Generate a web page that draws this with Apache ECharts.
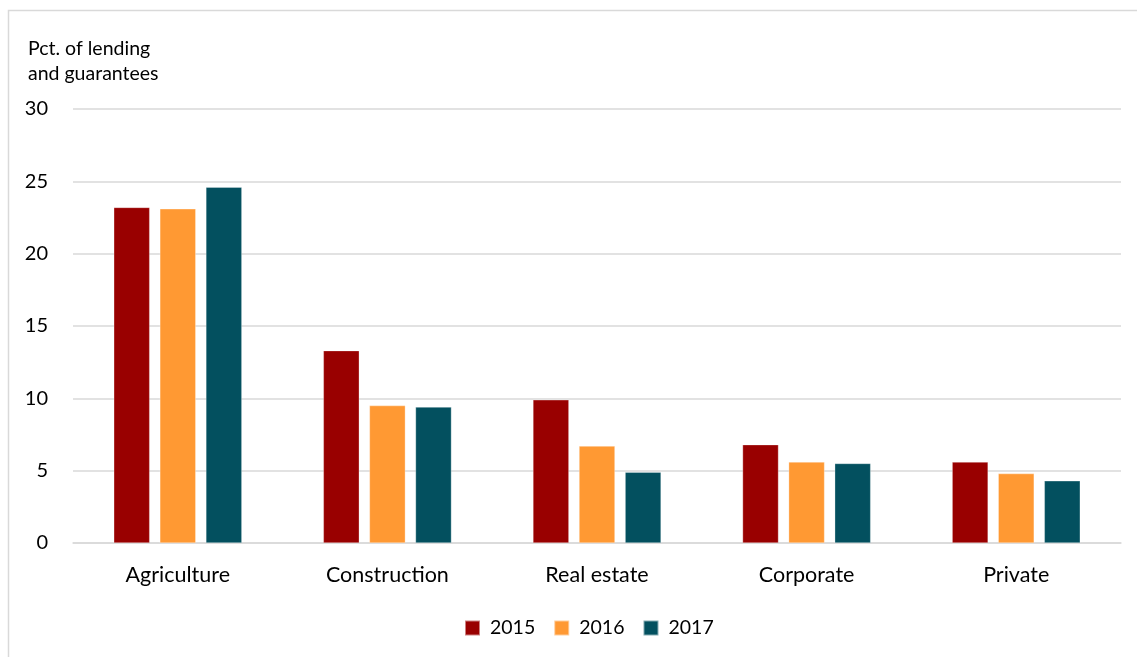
<!DOCTYPE html>
<html>
<head>
<meta charset="utf-8">
<script src="https://cdn.jsdelivr.net/npm/echarts@6/dist/echarts.min.js"></script>
<style>
  html, body { margin: 0; padding: 0; background: #fff; }
  #chart { width: 1137px; height: 657px; }
</style>
</head>
<body>
<div id="chart"></div>
<script>
// Share of lending and guarantees by sector, 2015-2017
const categories = ['Agriculture', 'Construction', 'Real estate', 'Corporate', 'Private'];
const years = ['2015', '2016', '2017'];
const values2015 = [23.2, 13.3, 9.9, 6.8, 5.6];
const values2016 = [23.1, 9.5, 6.7, 5.6, 4.8];
const values2017 = [24.6, 9.4, 4.9, 5.5, 4.3];
const yTicks = [0, 5, 10, 15, 20, 25, 30];

const colors = ['#990000', '#FF9933', '#03505F'];
const font = 'Lato, "Open Sans", sans-serif';
const seriesValues = [values2015, values2016, values2017];

const chart = echarts.init(document.getElementById('chart'), null, { renderer: 'canvas' });

chart.setOption({
  animation: false,
  backgroundColor: '#fff',
  textStyle: { fontFamily: font, color: '#000' },
  graphic: [{
    type: 'rect',
    shape: { x: 8.5, y: 10.5, width: 1200, height: 700 },
    style: { fill: 'none', stroke: '#D9D9D9', lineWidth: 1.5 },
    silent: true
  }],
  grid: { left: 73, right: 16, top: 109, bottom: 114 },
  legend: {
    bottom: 14,
    left: 459,
    itemWidth: 15,
    itemHeight: 15,
    itemGap: 18,
    icon: 'rect',
    textStyle: { fontFamily: font, fontSize: 19.5, color: '#000', padding: [0, 0, 0, 5] },
    data: years
  },
  xAxis: {
    type: 'category',
    data: categories,
    axisLine: { lineStyle: { color: '#D9D9D9', width: 1.5 } },
    axisTick: { show: false },
    axisLabel: { fontFamily: font, fontSize: 21.5, color: '#000', margin: 21 }
  },
  yAxis: {
    type: 'value',
    min: yTicks[0],
    max: yTicks[yTicks.length - 1],
    interval: 5,
    name: 'Pct. of lending\nand guarantees',
    nameLocation: 'end',
    nameGap: 0,
    nameTextStyle: {
      fontFamily: font, fontSize: 19.5, color: '#000', align: 'left',
      lineHeight: 25, padding: [0, 0, 13, -45]
    },
    axisLine: { show: false },
    axisTick: { show: false },
    splitLine: { lineStyle: { color: '#D9D9D9', width: 1.5 } },
    axisLabel: { fontFamily: font, fontSize: 20, color: '#000', margin: 25 }
  },
  series: years.map((y, i) => ({
    name: y,
    type: 'bar',
    data: seriesValues[i],
    barWidth: 36,
    barGap: '28%',
    itemStyle: { color: colors[i], borderColor: 'rgba(255,255,255,0.5)', borderWidth: 0.6 }
  }))
});
</script>
</body>
</html>
